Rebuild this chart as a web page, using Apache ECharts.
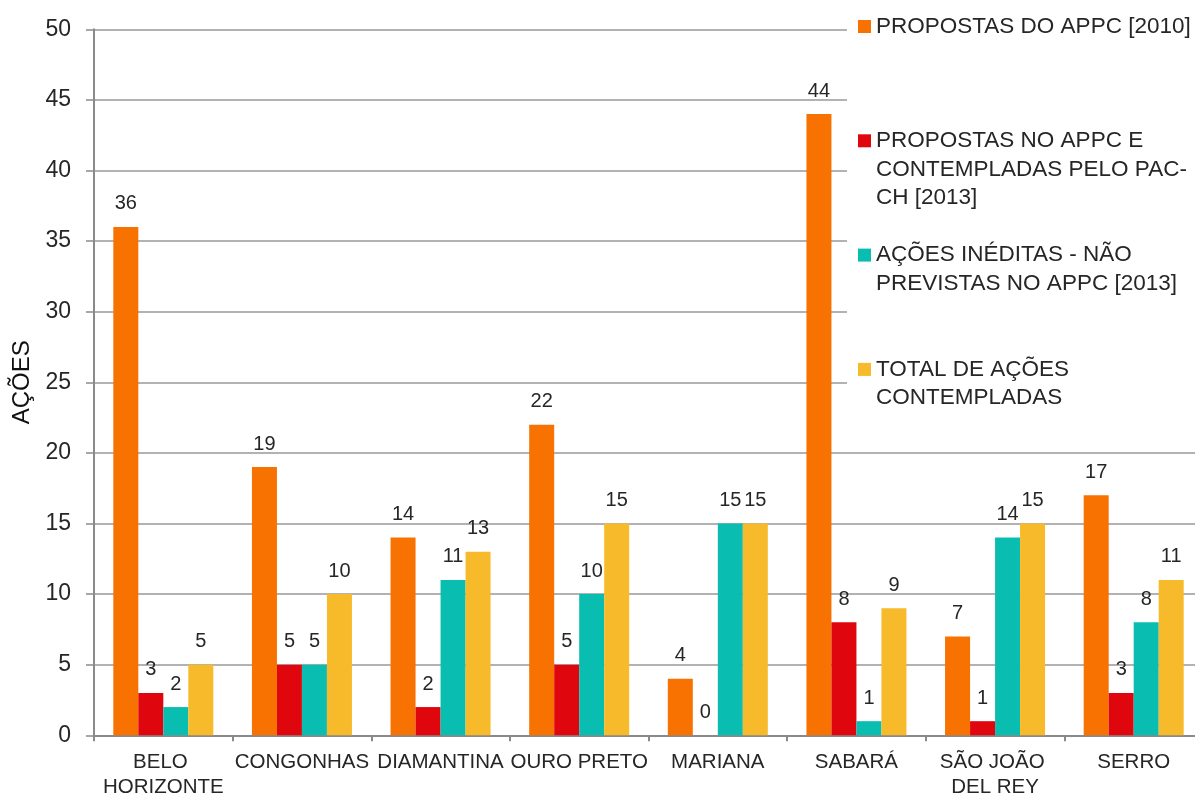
<!DOCTYPE html>
<html>
<head>
<meta charset="utf-8">
<script src="https://cdn.jsdelivr.net/npm/echarts@6/dist/echarts.min.js"></script>
<style>
  html, body { margin: 0; padding: 0; background: #fff; }
  #chart { width: 1195px; height: 796px; }
</style>
</head>
<body>
<div id="chart"></div>
<script>
// Ações por cidade
const cities = ['BELO HORIZONTE', 'CONGONHAS', 'DIAMANTINA', 'OURO PRETO', 'MARIANA', 'SABARÁ', 'SÃO JOÃO DEL REY', 'SERRO'];

const seriesNames = [
  'PROPOSTAS DO APPC [2010]',
  'PROPOSTAS NO APPC E CONTEMPLADAS PELO PAC-CH [2013]',
  'AÇÕES INÉDITAS - NÃO PREVISTAS NO APPC [2013]',
  'TOTAL DE AÇÕES CONTEMPLADAS'
];

// Legend text, wrapped into lines
const legendLines = [
  ['PROPOSTAS DO APPC [2010]'],
  ['PROPOSTAS NO APPC E', 'CONTEMPLADAS PELO PAC-', 'CH [2013]'],
  ['AÇÕES INÉDITAS - NÃO', 'PREVISTAS NO APPC [2013]'],
  ['TOTAL DE AÇÕES', 'CONTEMPLADAS']
];

const propostasAPPC = [36, 19, 14, 22, 4, 44, 7, 17];
const propostasContempladas = [3, 5, 2, 5, 0, 8, 1, 3];
const acoesIneditas = [2, 5, 11, 10, 15, 1, 14, 8];
const totalContempladas = [5, 10, 13, 15, 15, 9, 15, 11];

const yTicks = { min: 0, max: 50, interval: 5 };

const colors = ['#F77200', '#E0060E', '#09BDB1', '#F6BA2A'];

const FONT = '"Liberation Sans", Arial, Helvetica, sans-serif';
const TEXT = '#262626';
const LH = 28.5;
const LEGEND_SLOTS = 5; // text lines reserved per legend item

const chart = echarts.init(document.getElementById('chart'), null, { renderer: 'canvas' });

const values = [propostasAPPC, propostasContempladas, acoesIneditas, totalContempladas];

const series = seriesNames.map((name, i) => ({
  name: name,
  type: 'bar',
  data: values[i],
  barWidth: 25,
  barGap: '0%',
  itemStyle: { color: colors[i] },
  label: {
    show: true,
    position: 'top',
    distance: 13,
    fontFamily: FONT,
    fontSize: 20,
    color: TEXT
  }
}));

// Each legend item keeps the same height; its first text line sits beside the marker
function legendText(name) {
  const lines = legendLines[seriesNames.indexOf(name)];
  const before = 2;
  const after = LEGEND_SLOTS - before - lines.length;
  return new Array(before).fill('').concat(lines, new Array(after).fill('')).join('\n');
}

chart.setOption({
  animation: false,
  backgroundColor: '#ffffff',
  color: colors,
  grid: { left: 94, right: -8, top: 29.3, bottom: 60.7, containLabel: false, outerBoundsMode: 'none' },
  graphic: [{
    type: 'rect',
    z: 1,
    shape: { x: 847, y: 0, width: 360, height: 420 },
    style: { fill: '#ffffff' }
  }],
  legend: {
    orient: 'vertical',
    left: 858,
    top: 26.5 - LEGEND_SLOTS * LH / 2,
    padding: 0,
    itemGap: 114.3 - LEGEND_SLOTS * LH,
    itemWidth: 13,
    itemHeight: 13,
    icon: 'rect',
    selectedMode: false,
    data: seriesNames,
    formatter: legendText,
    textStyle: {
      fontFamily: FONT,
      fontSize: 22.5,
      lineHeight: LH,
      color: TEXT
    }
  },
  xAxis: {
    type: 'category',
    data: cities,
    axisLine: { lineStyle: { color: '#8a8a8a', width: 2 } },
    axisTick: { show: true, length: 6, lineStyle: { color: '#8a8a8a', width: 2 } },
    axisLabel: {
      interval: 0,
      margin: 15,
      fontFamily: FONT,
      fontSize: 20.5,
      lineHeight: 25,
      color: TEXT,
      width: 142,
      overflow: 'break'
    }
  },
  yAxis: {
    type: 'value',
    min: yTicks.min,
    max: yTicks.max,
    interval: yTicks.interval,
    name: 'AÇÕES',
    nameLocation: 'middle',
    nameGap: 49,
    nameRotate: 90,
    nameTextStyle: { fontFamily: FONT, fontSize: 24, color: '#111' },
    axisLine: { show: true, lineStyle: { color: '#8a8a8a', width: 2 } },
    axisTick: { show: true, length: 8, lineStyle: { color: '#8a8a8a', width: 1.5 } },
    splitLine: { show: true, lineStyle: { color: '#999999', width: 1.5 } },
    axisLabel: {
      margin: 23,
      fontFamily: FONT,
      fontSize: 23,
      color: TEXT
    }
  },
  series: series
});
</script>
</body>
</html>
